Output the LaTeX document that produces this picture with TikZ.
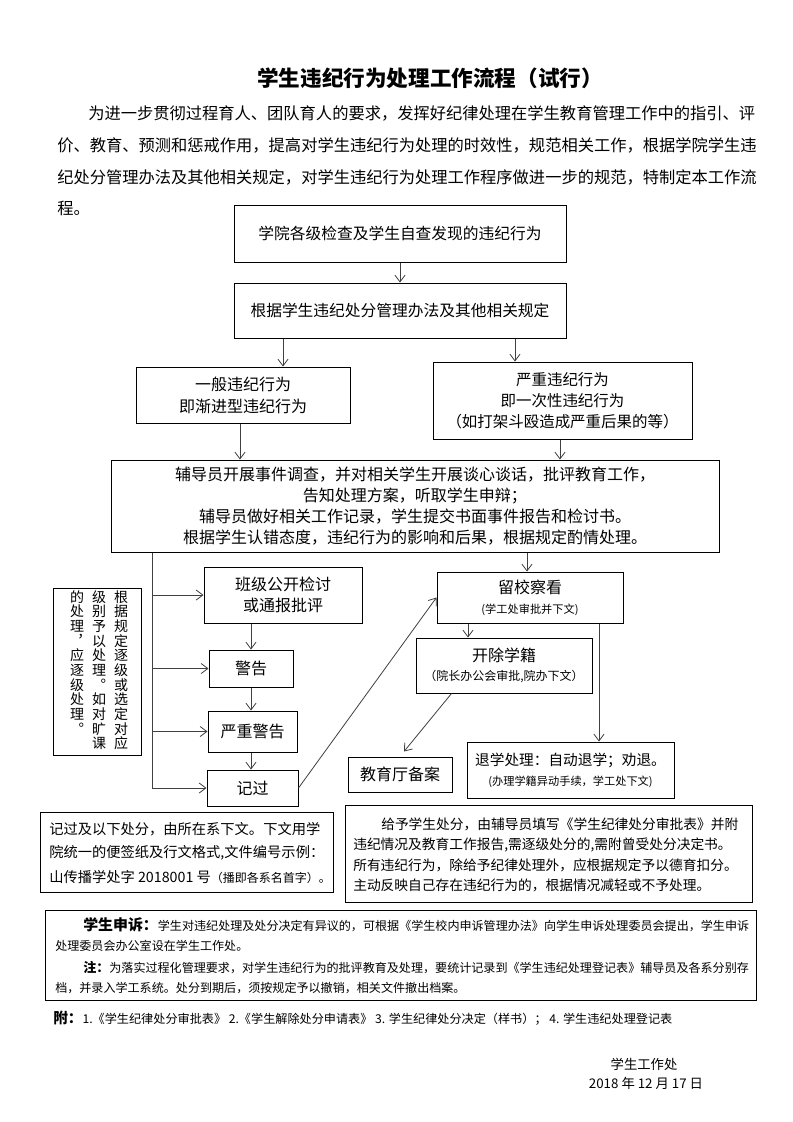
\documentclass[tikz,border=0pt]{standalone}
\usepackage{fontspec}
\setmainfont{Noto Sans CJK SC}
\usetikzlibrary{arrows.meta,calc}
\newcommand\fs[2]{\fontsize{#1}{#2}\selectfont}
\newcommand\pbox[7][]{% opts, name, x1, y1, x2, y2, text
  \node[box,#1,minimum width={(#5-#3)*0.75pt},minimum height={(#6-#4)*0.75pt}] (#2) at ({(#3+#5)/2},{(#4+#6)/2}) {#7};}
\begin{document}
\begin{tikzpicture}[x=0.75pt,y=-0.75pt,
  box/.style={draw=black,line width=0.75pt,inner sep=0pt,align=center,font=\fs{12}{15.8}},
  arr/.style={draw=black!75,line width=0.6pt,-{Straight Barb[length=5pt,width=7.5pt]}},
  conn/.style={draw=black!75,line width=0.6pt},
  txt/.style={inner sep=0pt,anchor=west},
  vt/.style={inner sep=0pt,anchor=north,align=center,font=\fs{10.5}{11}}]
\useasboundingbox[fill=white] (0,0) rectangle (793,1122);

% title and introduction
\node[inner sep=0pt,font=\fs{16.2}{18}\bfseries] (title) at (430,78) {学生违纪行为处理工作流程（试行）};
\node[txt,font=\fs{12.2}{14}] (p1) at (88,113) {为进一步贯彻过程育人、团队育人的要求，发挥好纪律处理在学生教育管理工作中的指引、评};
\node[txt,font=\fs{12.2}{14}] (p2) at (57,145) {价、教育、预测和惩戒作用，提高对学生违纪行为处理的时效性，规范相关工作，根据学院学生违};
\node[txt,font=\fs{12.2}{14}] (p3) at (57,177) {纪处分管理办法及其他相关规定，对学生违纪行为处理工作程序做进一步的规范，特制定本工作流};
\node[txt,font=\fs{12.2}{14}] (p4) at (57,208) {程。};

% main flow boxes
\pbox[font=\fs{11.8}{15}]{b1}{234}{205}{566}{262}{学院各级检查及学生自查发现的违纪行为}
\pbox[font=\fs{11.8}{15}]{b2}{234}{283}{566}{338}{根据学生违纪处分管理办法及其他相关规定}
\pbox[font=\fs{12}{16.5}]{b3}{136}{367}{350}{423}{一般违纪行为\\即渐进型违纪行为}
\pbox[font=\fs{11.6}{15.8}]{b4}{433}{362}{692}{439}{严重违纪行为\\即一次性违纪行为\\（如打架斗殴造成严重后果的等）}
\pbox[font=\fs{12}{15.8}]{b5}{111}{460}{719}{552}{辅导员开展事件调查，并对相关学生开展谈心谈话，批评教育工作，\\告知处理方案，听取学生申辩；\\辅导员做好相关工作记录，学生提交书面事件报告和检讨书。\\根据学生认错态度，违纪行为的影响和后果，根据规定酌情处理。}

% left ladder
\pbox{bj}{204}{567}{362}{623}{班级公开检讨\\或通报批评}
\pbox{jg}{209}{650}{293}{687}{警告}
\pbox{yz}{208}{711}{297}{752}{严重警告}
\pbox{jl}{207}{770}{298}{806}{记过}
\pbox{vbox}{53}{588}{141}{755}{}
\node[vt] (c1) at (121,590) {根\\据\\规\\定\\逐\\级\\或\\选\\定\\对\\应};
\node[vt] (c2) at (99,590) {级\\别\\予\\以\\处\\理\\︒\\如\\对\\旷\\课};
\node[vt] (c3) at (77,590) {的\\处\\理\\︐\\应\\逐\\级\\处\\理\\︒};

% right branch
\pbox{lx}{437}{572}{623}{623}{留校察看\\[-1pt]{\fs{8.4}{10}(学工处审批并下文)}}
\pbox{kc}{416}{638}{592}{693}{开除学籍\\[-2pt]{\fs{9}{11}（院长办公会审批,院办下文）}}
\pbox{tx}{467}{742}{674}{798}{{\fs{11}{14}退学处理：自动退学；劝退。}\\[-1pt]{\fs{8.4}{10}(办理学籍异动手续，学工处下文)}}
\pbox{jy}{348}{757}{452}{792}{教育厅备案}

% notes
\pbox{n1}{40}{812}{333}{892}{}
\node[txt,font=\fs{10.7}{12}] (n1a) at (49,829) {记过及以下处分，由所在系下文。下文用学};
\node[txt,font=\fs{10.7}{12}] (n1b) at (49,853) {院统一的便签纸及行文格式,文件编号示例：};
\node[txt,font=\fs{10.7}{12}] (n1c) at (49,877) {山传播学处字 2018001 号{\fs{9}{10}（播即各系名首字）。}};
\pbox{n2}{345}{805}{752}{902}{}
\node[txt,font=\fs{10.3}{12}] (n2a) at (381,824) {给予学生处分，由辅导员填写《学生纪律处分审批表》并附};
\node[txt,font=\fs{10.3}{12}] (n2b) at (353,845) {违纪情况及教育工作报告,需逐级处分的,需附曾受处分决定书。};
\node[txt,font=\fs{10.3}{12}] (n2c) at (353,865) {所有违纪行为，除给予纪律处理外，应根据规定予以德育扣分。};
\node[txt,font=\fs{10.3}{12}] (n2d) at (353,885) {主动反映自己存在违纪行为的，根据情况减轻或不予处理。};

\pbox{ap}{45}{910}{756}{1000}{}
\node[txt] (apa) at (83,925) {{\fs{11.2}{12}\bfseries 学生申诉：}{\fs{9.05}{11}学生对违纪处理及处分决定有异议的，可根据《学生校内申诉管理办法》向学生申诉处理委员会提出，学生申诉}};
\node[txt,font=\fs{9.05}{11}] (apb) at (55,946) {处理委员会办公室设在学生工作处。};
\node[txt] (apc) at (83,968) {{\fs{9.8}{11}\bfseries 注：}{\fs{9.05}{11}为落实过程化管理要求，对学生违纪行为的批评教育及处理，要统计记录到《学生违纪处理登记表》辅导员及各系分别存}};
\node[txt,font=\fs{9.05}{11}] (apd) at (55,988) {档，并录入学工系统。处分到期后，须按规定予以撤销，相关文件撤出档案。};

\node[txt] (att) at (53,1018) {{\fs{11}{12}\bfseries 附：}{\fs{9.1}{11}1.《学生纪律处分审批表》 2.《学生解除处分申请表》 3. 学生纪律处分决定（样书）； 4. 学生违纪处理登记表}};

\node[inner sep=0pt,font=\fs{10}{12}] (sig) at (644,1064) {学生工作处};
\node[inner sep=0pt,font=\fs{10}{12}] (date) at (646,1083) {2018 年 12 月 17 日};

% connectors
\draw[arr] (b1.south) -- (b2.north);
\draw[arr] (283,0 |- b2.south) -- (283,0 |- b3.north);
\draw[arr] (515,0 |- b2.south) -- (515,0 |- b4.north);
\draw[arr] (240,0 |- b3.south) -- (240,0 |- b5.north);
\draw[arr] (560,0 |- b4.south) -- (560,0 |- b5.north);
\draw[conn] (152,0 |- b5.south) -- (152,0 |- jl.west);
\draw[arr] (152,0 |- bj.west) -- (bj.west);
\draw[arr] (152,0 |- jg.west) -- (jg.west);
\draw[arr] (152,0 |- yz.west) -- (yz.west);
\draw[arr] (152,0 |- jl.west) -- (jl.west);
\draw[arr] (251,0 |- bj.south) -- (251,0 |- jg.north);
\draw[arr] (251,0 |- jg.south) -- (251,0 |- yz.north);
\draw[arr] (251,0 |- yz.south) -- (251,0 |- jl.north);
\draw[arr] (jl.east) -- (lx.west);
\draw[arr] (527,0 |- b5.south) -- (527,0 |- lx.north);
\draw[arr] (468,0 |- lx.south) -- (468,0 |- kc.north);
\draw[arr] (599,0 |- lx.south) -- (599,0 |- tx.north);
\draw[arr] ($(kc.south west)+(36,0)$) -- ($(jy.north)+(4,-5)$);
\end{tikzpicture}
\end{document}
